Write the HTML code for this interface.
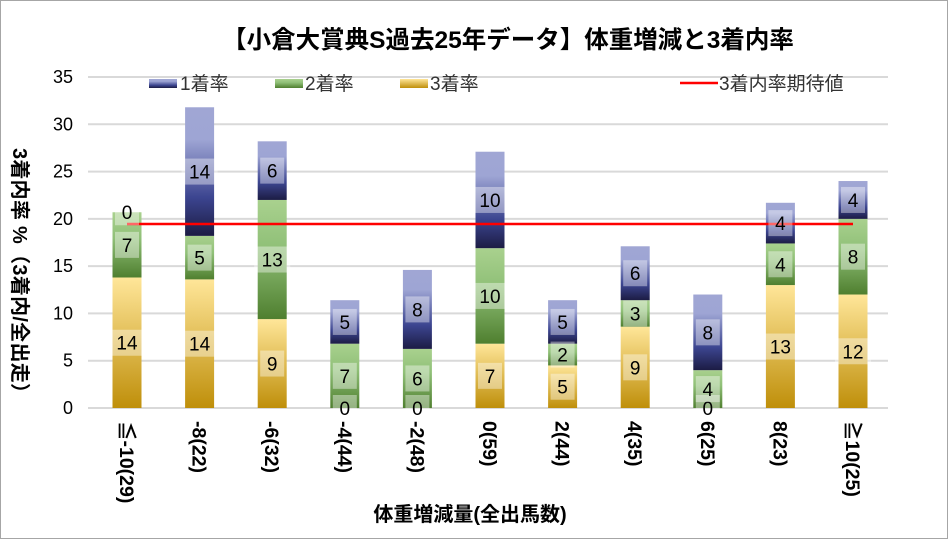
<!DOCTYPE html>
<html><head><meta charset="utf-8"><style>
html,body{margin:0;padding:0;background:#fff}
svg{display:block;font-family:"Liberation Sans","Noto Sans CJK JP",sans-serif}
</style></head><body>
<svg id="s" width="949" height="540" viewBox="0 0 949 540" xmlns="http://www.w3.org/2000/svg">
<defs>
<linearGradient id="gy" x1="0" y1="1" x2="0" y2="0"><stop offset="0" stop-color="#bf8f0a"/><stop offset="1" stop-color="#ffe699"/></linearGradient>
<linearGradient id="gg" x1="0" y1="1" x2="0" y2="0"><stop offset="0" stop-color="#4f7f2f"/><stop offset="0.6" stop-color="#90c078"/><stop offset="1" stop-color="#a9d18e"/></linearGradient>
<linearGradient id="gb" x1="0" y1="1" x2="0" y2="0"><stop offset="0" stop-color="#1c1c44"/><stop offset="0.3" stop-color="#3c4590"/><stop offset="0.75" stop-color="#9ea5d4"/><stop offset="1" stop-color="#a0a6d4"/></linearGradient>
</defs>
<rect x="0.5" y="0.5" width="947" height="538" fill="#fff" stroke="#a6a6a6"/>
<text x="508" y="48" font-size="24.5" font-weight="bold" text-anchor="middle" fill="#000">【小倉大賞典S過去25年データ】体重増減と3着内率</text>
<g id="grid" stroke="#d9d9d9" stroke-width="2"></g>
<g id="bars"></g>
<line x1="127" y1="224" x2="853" y2="224" stroke="#f00" stroke-width="2.5"/>
<g id="labs"></g>
<g font-size="19" fill="#333">
<rect x="149" y="79" width="28" height="9" fill="url(#gb)"/><text x="180" y="90">1着率</text>
<rect x="275" y="79" width="28" height="9" fill="url(#gg)"/><text x="305" y="90">2着率</text>
<rect x="400" y="79" width="28" height="9" fill="url(#gy)"/><text x="430" y="90">3着率</text>
<line x1="680" y1="83" x2="718" y2="83" stroke="#f00" stroke-width="2.5"/><text x="719" y="90">3着内率期待値</text>
</g>
<g id="yt" font-size="18" fill="#000" text-anchor="end"></g>
<text transform="translate(13,148) rotate(90)" font-size="20" font-weight="bold" fill="#000" textLength="255">3着内率 %（3着内/全出走）</text>
<g id="xt" font-size="19.5" font-weight="bold" fill="#000"></g>
<text x="470" y="521" font-size="20" font-weight="bold" text-anchor="middle" fill="#000">体重増減量(全出馬数)</text>
</svg>
<script>
var NS="http://www.w3.org/2000/svg";
function el(p,t,a,txt){var e=document.createElementNS(NS,t);for(var k in a)e.setAttribute(k,a[k]);if(txt!=null)e.textContent=txt;document.getElementById(p).appendChild(e);return e;}
var base=408,k=9.457;
for(var i=0;i<=7;i++){var y=base-i*5*k;el("grid","line",{x1:88,y1:y,x2:888,y2:y});el("yt","text",{x:73,y:y+6},String(i*5));}
var data=[[13.8,20.7,20.7,14,7,0],[13.6,18.2,31.8,14,5,14],[9.4,22,28.2,9,13,6],[0,6.8,11.4,0,7,5],[0,6.25,14.6,0,6,8],[6.8,16.9,27.1,7,10,10],[4.5,6.8,11.4,5,2,5],[8.6,11.4,17.1,9,3,6],[0,4,12,0,4,8],[13,17.4,21.7,13,4,4],[12,20,24,12,8,4]];
var xl=["≦-10(29)","-8(22)","-6(32)","-4(44)","-2(48)","0(59)","2(44)","4(35)","6(25)","8(23)","≧10(25)"];
var fills=["url(#gy)","url(#gg)","url(#gb)"];
data.forEach(function(d,i){
  var cx=127+i*72.6,x=cx-14.5;
  var lo=[0,d[0],d[1]],hi=[d[0],d[1],d[2]];
  for(var j=0;j<3;j++){
    var y1=base-hi[j]*k,y0=base-lo[j]*k;
    if(y0-y1>0.1)el("bars","rect",{x:x,y:y1,width:29,height:y0-y1,fill:fills[j]});
    var v=d[3+j],cy=(y0+y1)/2,w=v>=10?36:24;
    el("labs","rect",{x:cx-w/2,y:cy-13,width:w,height:26,fill:"#fff","fill-opacity":0.4});
    el("labs","text",{x:cx,y:cy+7,"font-size":19,"text-anchor":"middle",fill:"#000"},String(v));
  }
  el("xt","text",{transform:"translate("+(cx-7)+",421) rotate(90)"},xl[i]);
});
</script>
</body></html>
